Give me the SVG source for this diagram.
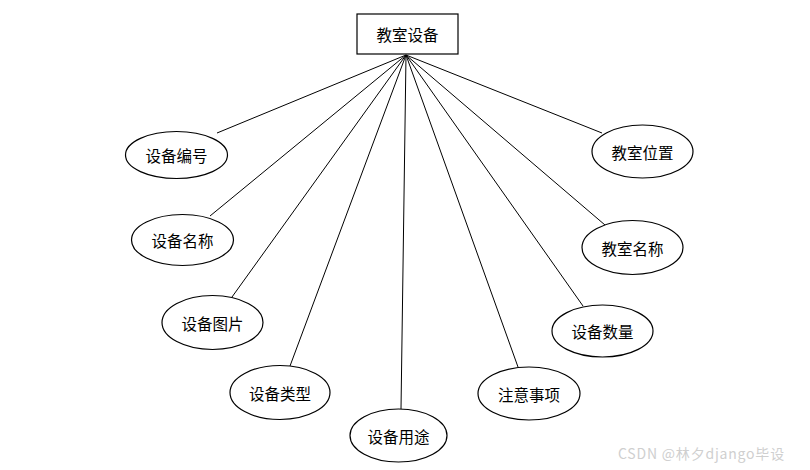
<svg xmlns="http://www.w3.org/2000/svg" width="810" height="470" viewBox="0 0 810 470">
<style>
.n{fill:#fff;stroke:#000;stroke-width:1.2}
.t{font-family:"Noto Sans CJK SC","Liberation Sans",sans-serif;font-size:15.5px;fill:#000;text-anchor:middle;dominant-baseline:central}
.c line{stroke:#000;stroke-width:1}
.w{font-family:"Noto Sans CJK SC","Liberation Sans",sans-serif;font-size:14px;fill:#cfcfcf;letter-spacing:0.8px}
</style>
<rect width="810" height="470" fill="#fff"/>
<g class="c" id="connectors">
<line x1="406" y1="55" x2="217" y2="133"/>
<line x1="406" y1="55" x2="210" y2="216"/>
<line x1="406" y1="55" x2="232" y2="297"/>
<line x1="406" y1="55" x2="290" y2="366"/>
<line x1="406" y1="55" x2="401" y2="409"/>
<line x1="406" y1="55" x2="518" y2="367"/>
<line x1="406" y1="55" x2="583" y2="306"/>
<line x1="406" y1="55" x2="605" y2="225"/>
<line x1="406" y1="55" x2="602" y2="133"/>
</g>
<g id="root"><rect class="n" x="357" y="14" width="101" height="40"/><text class="t" x="407.5" y="34">教室设备</text></g>
<g id="n1"><ellipse class="n" cx="176.5" cy="155" rx="51" ry="23.5"/><text class="t" x="176.5" y="155">设备编号</text></g>
<g id="n2"><ellipse class="n" cx="182.5" cy="240" rx="51" ry="25.5"/><text class="t" x="182.5" y="240">设备名称</text></g>
<g id="n3"><ellipse class="n" cx="212.5" cy="322.5" rx="50.5" ry="27"/><text class="t" x="212.5" y="322.5">设备图片</text></g>
<g id="n4"><ellipse class="n" cx="280" cy="392.5" rx="50" ry="27"/><text class="t" x="280" y="392.5">设备类型</text></g>
<g id="n5"><ellipse class="n" cx="398.5" cy="435.5" rx="48.5" ry="26.5"/><text class="t" x="398.5" y="435.5">设备用途</text></g>
<g id="n6"><ellipse class="n" cx="529" cy="393.5" rx="51" ry="26.5"/><text class="t" x="529" y="393.5">注意事项</text></g>
<g id="n7"><ellipse class="n" cx="602.5" cy="331" rx="50.5" ry="26"/><text class="t" x="602.5" y="331">设备数量</text></g>
<g id="n8"><ellipse class="n" cx="632.5" cy="247.5" rx="50.5" ry="27"/><text class="t" x="632.5" y="247.5">教室名称</text></g>
<g id="n9"><ellipse class="n" cx="642.5" cy="151.5" rx="50.5" ry="26.5"/><text class="t" x="642.5" y="151.5">教室位置</text></g>
<text class="w" x="618" y="459">CSDN @林夕django毕设</text>
</svg>
